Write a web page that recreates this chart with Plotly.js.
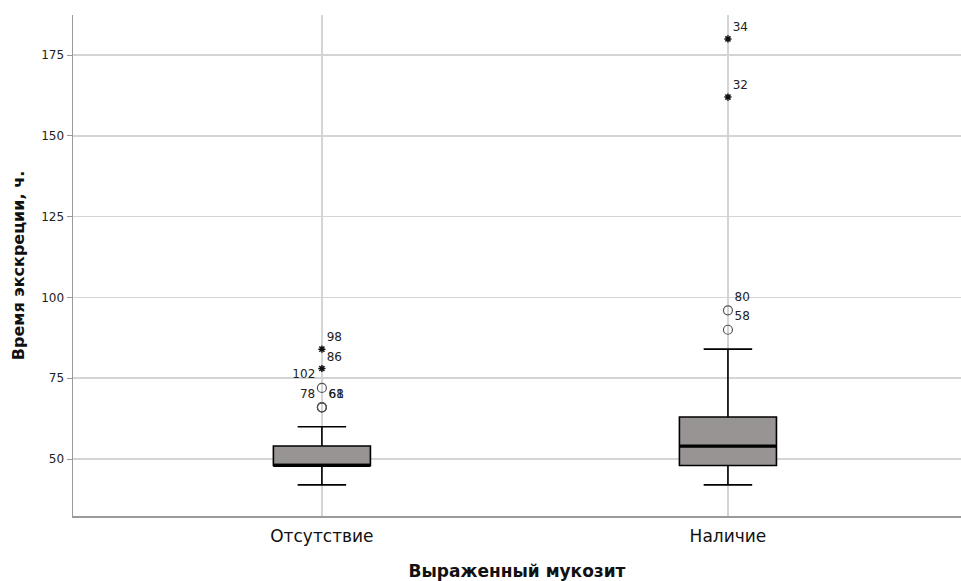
<!DOCTYPE html>
<html>
<head>
<meta charset="utf-8">
<script src="https://cdn.plot.ly/plotly-3.0.1.min.js"></script>
<style>html,body{margin:0;padding:0;background:#fff;}#chart{width:961px;height:581px;}</style>
</head>
<body>
<div id="chart"></div>
<script>
// Categories
const categories = ["Отсутствие", "Наличие"];
const catPos = [0, 1];
// Box statistics (hours)
const lowerWhisker = [42, 42];
const q1 = [48, 48];
const median = [48, 54];
const q3 = [54, 63];
const upperWhisker = [60, 84];
// Mild outliers (circles)
const mildX = [0, 0, 0, 0, 1, 1];
const mildY = [66, 66, 66, 72, 90, 96];
const mildLabels = ["78", "68", "61", "102", "58", "80"];
const mildLabelPos = ["top left", "top right", "top right", "top left", "top right", "top right"];
// Extreme outliers (stars)
const extX = [0, 0, 1, 1];
const extY = [78, 84, 162, 180];
const extLabels = ["86", "98", "32", "34"];

const boxW = 0.239;
const medX = [], medY = [];
catPos.forEach((p, i) => { medX.push(p - boxW / 2, p + boxW / 2, null); medY.push(median[i], median[i], null); });

const font = "DejaVu Sans, Verdana, sans-serif";

const traces = [
  {
    type: "box", x: catPos, q1: q1, median: median, q3: q3,
    lowerfence: lowerWhisker, upperfence: upperWhisker,
    width: boxW, whiskerwidth: 0.5, boxpoints: false,
    fillcolor: "#989493", line: {color: "#000", width: 1.6},
    hoverinfo: "skip", showlegend: false
  },
  {
    type: "scatter", mode: "lines", x: medX, y: medY,
    line: {color: "#000", width: 3.2}, hoverinfo: "skip", showlegend: false
  },
  {
    type: "scatter", mode: "markers+text", x: mildX, y: mildY, text: mildLabels,
    textposition: mildLabelPos, textfont: {family: font, size: 12, color: "#222"},
    marker: {symbol: "circle-open", size: 9, color: "#555", line: {width: 1.2}},
    cliponaxis: false, hoverinfo: "skip", showlegend: false
  },
  {
    type: "scatter", mode: "markers+text", x: extX, y: extY, text: extLabels,
    textposition: "top right", textfont: {family: font, size: 12, color: "#222"},
    marker: {symbol: "asterisk-open", size: 6, color: "#111", line: {width: 1.5, color: "#111"}},
    cliponaxis: false, hoverinfo: "skip", showlegend: false
  }
];

const layout = {
  width: 961, height: 581,
  margin: {l: 73, r: 0, t: 15, b: 65},
  paper_bgcolor: "#fff", plot_bgcolor: "#fff",
  font: {family: font, color: "#111"},
  showlegend: false,
  xaxis: {
    range: [-0.613, 1.574], tickvals: catPos, ticktext: categories,
    showgrid: true, gridcolor: "#d4d4d4", gridwidth: 1.5,
    zeroline: false, showline: true, linecolor: "#9a9a9a", linewidth: 1.5,
    ticks: "outside", ticklen: 4, tickcolor: "rgba(0,0,0,0)",
    tickfont: {family: font, size: 17, color: "#111"},
    title: {text: "Выраженный мукозит", font: {family: font, size: 17, color: "#111", weight: "bold"}, standoff: 22}
  },
  yaxis: {
    range: [32.36, 187.4], tickvals: [50, 75, 100, 125, 150, 175],
    showgrid: true, gridcolor: "#d4d4d4", gridwidth: 1.5,
    zeroline: false, showline: true, linecolor: "#9a9a9a", linewidth: 1.5,
    ticks: "outside", ticklen: 5, tickcolor: "#9a9a9a",
    tickfont: {family: font, size: 12, color: "#222"},
    title: {text: "Время экскреции, ч.", font: {family: font, size: 16, color: "#111", weight: "bold"}, standoff: 12}
  }
};

Plotly.newPlot("chart", traces, layout, {displayModeBar: false, staticPlot: true});
</script>
</body>
</html>
